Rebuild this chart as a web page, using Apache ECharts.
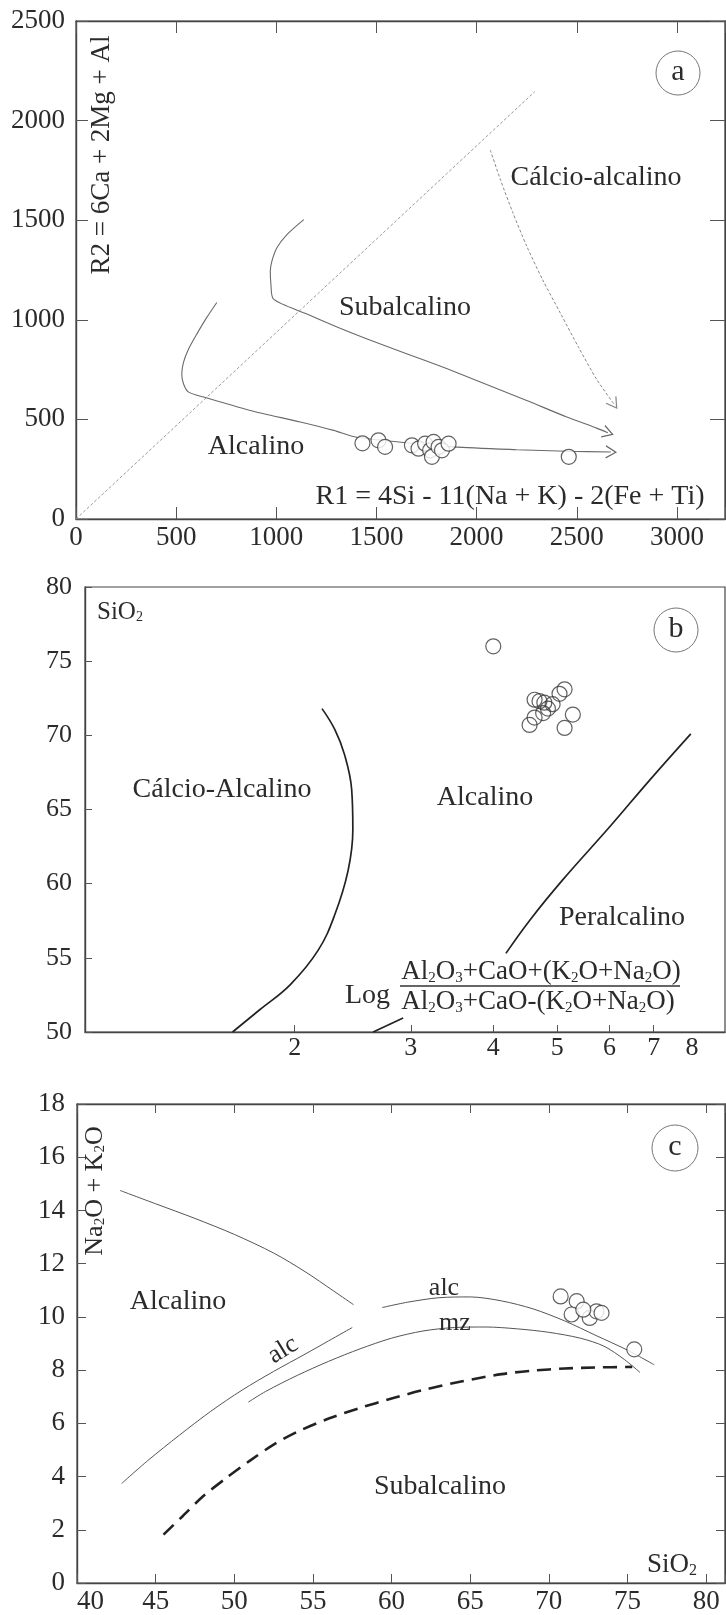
<!DOCTYPE html>
<html><head><meta charset="utf-8">
<script src="https://cdn.jsdelivr.net/npm/echarts@6/dist/echarts.min.js"></script>
<style>html,body{margin:0;padding:0;background:#fff}#chart{width:726px;height:1615px}</style>
</head><body><div id="chart"></div>
<script>
// ---------- Panel a (R1-R2) ----------
const aTickValuesX = [0, 500, 1000, 1500, 2000, 2500, 3000];
const aTickValuesY = [0, 500, 1000, 1500, 2000, 2500];
const aSamplesR1 = [1430, 1510, 1543, 1677, 1710, 1743, 1768, 1777, 1785, 1810, 1827, 1860, 2460];
const aSamplesR2 = [380, 395, 362, 370, 353, 378, 345, 312, 387, 362, 345, 378, 312];
const aDiagonal = [[0, 0], [2290, 2145]];
const aAlcalinoLine = [[703,1087],[653,1012],[603,928],[562,853],[537,787],[528,728],[537,678],[562,637],[637,612],[870,545],[1120,487],[1287,445],[1395,412],[1600,388],[1885,362],[2200,348],[2450,340],[2670,336]];
const aSubalcalinoLine = [[1137,1503],[1053,1428],[1003,1362],[978,1295],[970,1245],[973,1180],[985,1105],[1150,1030],[1300,965],[1450,905],[1650,830],[1850,755],[2050,675],[2250,595],[2450,512],[2602,455],[2655,433]];
const aCalcioLine = [[2068,1853],[2120,1700],[2180,1540],[2250,1370],[2330,1200],[2420,1030],[2510,860],[2600,700],[2685,578]];

// ---------- Panel b (log ratio vs SiO2) ----------
const bTickValuesX = [2, 3, 4, 5, 6, 7, 8];
const bTickValuesY = [50, 55, 60, 65, 70, 75, 80];
const bSamplesX = [4.00, 4.62, 4.70, 4.78, 4.84, 4.92, 5.04, 5.13, 4.54, 4.62, 4.76, 5.28, 5.13];
const bSamplesY = [76.0, 72.4, 72.3, 72.2, 71.8, 72.1, 72.8, 73.1, 70.7, 71.2, 71.5, 71.4, 70.5];
const bCalcioBoundary = [[2.20,71.8],[2.30,70.4],[2.38,68.7],[2.44,66.35],[2.45,63.65],[2.41,60.9],[2.30,57.9],[2.17,55.5],[1.97,53.2],[1.77,51.5],[1.61,50.0]];
const bPeralcUpper = [[7.97,70.1],[6.91,67.0],[6.01,63.85],[5.10,60.27],[4.55,57.57],[4.18,55.3]];
const bPeralcLower = [[2.92,50.95],[2.63,50.0]];

// ---------- Panel c (TAS) ----------
const cTickValuesX = [40, 45, 50, 55, 60, 65, 70, 75, 80];
const cTickValuesY = [0, 2, 4, 6, 8, 10, 12, 14, 16, 18];
const cSamplesSiO2 = [70.75, 71.77, 71.45, 72.6, 73.03, 73.35, 72.19, 75.43];
const cSamplesAlk = [10.77, 10.59, 10.09, 9.96, 10.21, 10.15, 10.27, 8.78];
const cAlcalinoUpper = [[42.74,14.75],[45,14.25],[47.5,13.7],[50,13.1],[52.5,12.4],[54.5,11.7],[56.3,10.98],[57.58,10.46]];
const cAlcRight = [[59.4,10.35],[61,10.55],[63,10.72],[65,10.75],[67,10.6],[69,10.3],[71,9.85],[73,9.3],[75,8.75],[76.7,8.2]];
const cAlcLeft = [[42.84,3.74],[44.5,4.6],[46.5,5.55],[48.5,6.45],[50.5,7.25],[52.5,7.95],[54.5,8.6],[56,9.1],[57.5,9.6]];
const cMzLine = [[50.9,6.8],[52,7.2],[54,7.8],[56,8.33],[58,8.8],[60,9.2],[62,9.47],[64,9.6],[66,9.62],[68,9.55],[70,9.42],[72,9.2],[73.5,8.9],[74.8,8.4],[75.8,7.91]];
const cDashedLine = [[45.5,1.82],[46.7,2.5],[48,3.25],[49.5,3.95],[51,4.6],[52.5,5.2],[54,5.68],[56,6.18],[58,6.58],[60,6.93],[62,7.25],[64.5,7.58],[67,7.85],[69,7.98],[71,8.06],[73,8.1],[75.3,8.12]];

// ---------- styling ----------
const FONT = "'Liberation Serif','Times New Roman',serif";
const TXT = '#2b2b2b';
const AXIS = '#444';
const ARROW = 'path://M0,0L10,6L0,12';

function withArrow(points, rot, color) {
  const d = points.map(p => p.slice());
  const last = d.pop();
  d.push({ value: last, symbol: ARROW, symbolSize: [10, 12], symbolRotate: rot,
    itemStyle: { color: 'rgba(0,0,0,0)', borderColor: color, borderWidth: 1.2 } });
  return d;
}
function pairs(xs, ys) { return xs.map((x, i) => [x, ys[i]]); }

function axisLine() { return { show: true, onZero: false, lineStyle: { color: AXIS, width: 1.4 } }; }
function tick(len) { return { show: true, inside: true, length: len, lineStyle: { color: '#555', width: 1 } }; }
function label(margin, size, extra) {
  return Object.assign({ show: true, color: TXT, fontFamily: FONT, fontSize: size, margin: margin,
    showMaxLabel: true, showMinLabel: true, formatter: v => String(v) }, extra || {});
}

const xAxis = [
  { gridIndex: 0, type: 'value', position: 'bottom', min: 0, max: 3240, interval: 500,
    axisLine: axisLine(), axisTick: tick(12), splitLine: { show: false },
    axisLabel: label(5, 27, { customValues: aTickValuesX }) },
  { gridIndex: 0, type: 'value', position: 'top', min: 0, max: 3240, interval: 500,
    axisLine: axisLine(), axisTick: tick(12), splitLine: { show: false }, axisLabel: { show: false } },
  { gridIndex: 1, type: 'log', logBase: 10, position: 'bottom', min: 0.962, max: 8.98,
    axisLine: axisLine(), splitLine: { show: false }, minorTick: { show: false },
    axisTick: Object.assign(tick(7), { customValues: [2, 3, 4, 5, 6, 7] }),
    axisLabel: label(3, 26, { customValues: bTickValuesX, formatter: v => String(Math.round(v)) }) },
  { gridIndex: 2, type: 'value', position: 'bottom', min: 40, max: 81.2, interval: 5,
    axisLine: axisLine(), axisTick: tick(9), splitLine: { show: false },
    axisLabel: label(5, 27, { customValues: cTickValuesX, alignMinLabel: 'left' }) },
  { gridIndex: 2, type: 'value', position: 'top', min: 40, max: 81.2, interval: 5,
    axisLine: axisLine(), axisTick: tick(9), splitLine: { show: false }, axisLabel: { show: false } }
];
const yAxis = [
  { gridIndex: 0, type: 'value', position: 'left', min: 0, max: 2500, interval: 500,
    axisLine: axisLine(), axisTick: tick(12), splitLine: { show: false },
    axisLabel: label(11, 27, { customValues: aTickValuesY }) },
  { gridIndex: 0, type: 'value', position: 'right', min: 0, max: 2500, interval: 500,
    axisLine: axisLine(), axisTick: tick(15), splitLine: { show: false }, axisLabel: { show: false } },
  { gridIndex: 1, type: 'value', position: 'left', min: 50, max: 80, interval: 5,
    axisLine: axisLine(), axisTick: tick(7), splitLine: { show: false },
    axisLabel: label(13, 26, { customValues: bTickValuesY }) },
  { gridIndex: 2, type: 'value', position: 'left', min: 0, max: 18, interval: 2,
    axisLine: axisLine(), axisTick: tick(9), splitLine: { show: false },
    axisLabel: label(12, 27, { customValues: cTickValuesY }) },
  { gridIndex: 2, type: 'value', position: 'right', min: 0, max: 18, interval: 2,
    axisLine: axisLine(), axisTick: tick(9), splitLine: { show: false }, axisLabel: { show: false } }
];

function line(xi, yi, data, color, width, type, smooth) {
  return { type: 'line', xAxisIndex: xi, yAxisIndex: yi, data: data, symbol: 'none', showSymbol: true,
    smooth: smooth, silent: true, z: 3,
    lineStyle: { color: color, width: width, type: type || 'solid' } };
}
function scatter(xi, yi, data, fill) {
  return { type: 'scatter', xAxisIndex: xi, yAxisIndex: yi, data: data, symbol: 'circle', symbolSize: 15, z: 5,
    itemStyle: { color: fill, borderColor: '#3a3a3a', borderWidth: 1.2 } };
}

const series = [
  line(0, 0, aDiagonal, '#9a9a9a', 1, [3, 2], false),
  line(0, 0, withArrow(aAlcalinoLine, -2, '#666'), '#6a6a6a', 1.1, 'solid', 0.25),
  line(0, 0, withArrow(aSubalcalinoLine, -18, '#666'), '#6a6a6a', 1.1, 'solid', 0.25),
  line(0, 0, withArrow(aCalcioLine, -55, '#888'), '#8a8a8a', 1, [3, 2], 0.25),
  scatter(0, 0, pairs(aSamplesR1, aSamplesR2), '#ffffff'),

  line(2, 2, bCalcioBoundary, '#222', 1.7, 'solid', 0.4),
  line(2, 2, bPeralcUpper, '#222', 1.7, 'solid', 0.4),
  line(2, 2, bPeralcLower, '#222', 1.7, 'solid', false),
  scatter(2, 2, pairs(bSamplesX, bSamplesY), 'rgba(255,255,255,0)'),

  line(3, 3, cAlcalinoUpper, '#555', 1, 'solid', 0.3),
  line(3, 3, cAlcRight, '#555', 1, 'solid', 0.3),
  line(3, 3, cAlcLeft, '#555', 1, 'solid', 0.3),
  line(3, 3, cMzLine, '#555', 1, 'solid', 0.3),
  line(3, 3, cDashedLine, '#222', 2.6, [14, 8], 0.3),
  scatter(3, 3, pairs(cSamplesSiO2, cSamplesAlk), '#ffffff')
];

function txt(text, x, y, size, extra) {
  return Object.assign({ type: 'text', x: x, y: y, z: 100, silent: true,
    style: { text: text, fontFamily: FONT, fontSize: size, fill: TXT, align: 'center', verticalAlign: 'middle' } }, extra || {});
}
function richTxt(text, x, y, size, subSize, align, extra) {
  return Object.assign({ type: 'text', x: x, y: y, z: 100, silent: true,
    style: { text: text, align: align || 'center', verticalAlign: 'middle', fill: TXT,
      rich: { n: { fontFamily: FONT, fontSize: size, fill: TXT, verticalAlign: 'bottom', lineHeight: size },
              s: { fontFamily: FONT, fontSize: subSize, fill: TXT, verticalAlign: 'bottom', lineHeight: subSize } } } }, extra || {});
}
function ring(cx, cy, r, letter) {
  return [
    { type: 'circle', z: 100, silent: true, shape: { cx: cx, cy: cy, r: r }, style: { fill: 'none', stroke: '#777', lineWidth: 1 } },
    txt(letter, cx, cy - 1, 30)
  ];
}

const graphic = [
  // panel a
  txt('Cálcio-alcalino', 596, 178, 28),
  txt('Subalcalino', 405, 308, 28),
  txt('Alcalino', 256, 447, 28),
  txt('R1 = 4Si - 11(Na + K) - 2(Fe + Ti)', 510, 497, 28),
  txt('R2 = 6Ca + 2Mg + Al', 102, 155, 27, { rotation: Math.PI / 2 }),
  ...ring(678, 73, 22, 'a'),
  // panel b
  richTxt('{n|SiO}{s|2}', 97, 612, 25, 14, 'left'),
  txt('Cálcio-Alcalino', 222, 790, 28),
  txt('Alcalino', 485, 798, 28),
  txt('Peralcalino', 622, 918, 28),
  txt('Log', 390, 996, 28, { style: { text: 'Log', fontFamily: FONT, fontSize: 28, fill: TXT, align: 'right', verticalAlign: 'middle' } }),
  richTxt('{n|Al}{s|2}{n|O}{s|3}{n|+CaO+(K}{s|2}{n|O+Na}{s|2}{n|O)}', 541, 972, 27, 15),
  { type: 'line', z: 100, silent: true, shape: { x1: 400, y1: 986, x2: 680, y2: 986 }, style: { stroke: '#333', lineWidth: 1.5 } },
  richTxt('{n|Al}{s|2}{n|O}{s|3}{n|+CaO-(K}{s|2}{n|O+Na}{s|2}{n|O)}', 538, 1002, 27, 15),
  ...ring(676, 630, 22, 'b'),
  // panel c
  richTxt('{n|Na}{s|2}{n|O + K}{s|2}{n|O}', 95, 1191, 26, 15, 'center', { rotation: Math.PI / 2 }),
  txt('Alcalino', 178, 1302, 28),
  txt('alc', 444, 1288, 26),
  txt('mz', 455, 1323, 26),
  txt('alc', 283, 1350, 26, { rotation: 0.55 }),
  txt('Subalcalino', 440, 1487, 28),
  richTxt('{n|SiO}{s|2}', 672, 1565, 27, 16),
  ...ring(675, 1148, 23, 'c')
];

const option = {
  animation: false,
  backgroundColor: '#ffffff',
  grid: [
    { left: 76, top: 21, width: 649, height: 498, show: true, borderColor: AXIS, borderWidth: 1.2, containLabel: false },
    { left: 85, top: 587, width: 640, height: 445, show: true, borderColor: AXIS, borderWidth: 1.2, containLabel: false },
    { left: 77, top: 1104, width: 648, height: 483, show: true, borderColor: AXIS, borderWidth: 1.2, containLabel: false }
  ],
  xAxis: xAxis,
  yAxis: yAxis,
  series: series,
  graphic: graphic
};

const chart = echarts.init(document.getElementById('chart'), null, { renderer: 'canvas' });
chart.setOption(option);
</script>
</body></html>
